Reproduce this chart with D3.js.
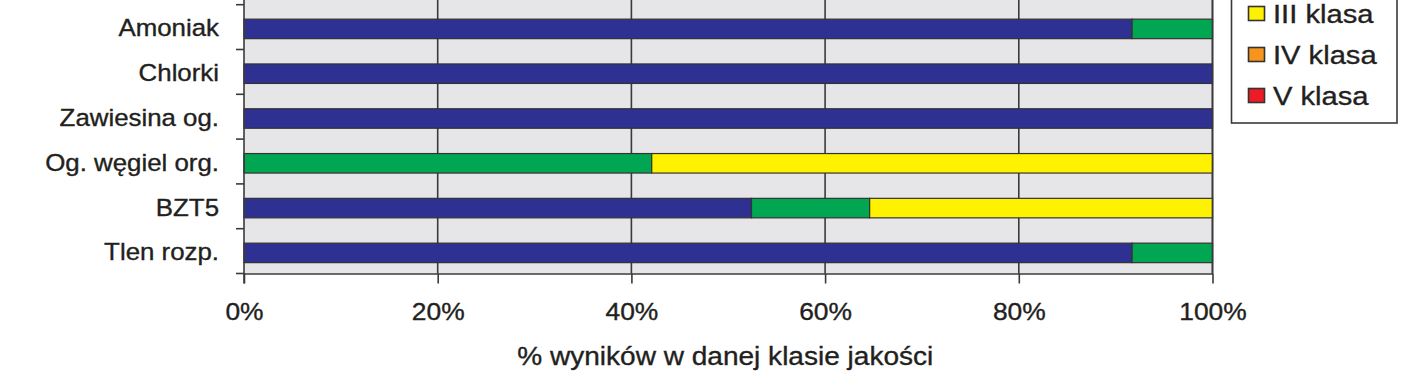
<!DOCTYPE html>
<html><head><meta charset="utf-8">
<script src="https://cdn.jsdelivr.net/npm/d3@7"></script>
<style>
html,body{margin:0;padding:0;background:#fff;overflow:hidden}
text{font-family:"Liberation Sans",Arial,sans-serif;fill:#231f20;stroke:#231f20;stroke-width:0.35px}
</style></head>
<body>
<svg id="c" width="1409" height="379"></svg>
<script>
const categories = ["Amoniak","Chlorki","Zawiesina og.","Og. węgiel org.","BZT5","Tlen rozp."];
const classNames = ["I klasa","II klasa","III klasa","IV klasa","V klasa"];
const classI   = [91.7,100,100,0,52.4,91.7];
const classII  = [8.3,0,0,42.1,12.2,8.3];
const classIII = [0,0,0,57.9,35.4,0];
const classIV  = [0,0,0,0,0,0];
const classV   = [0,0,0,0,0,0];
const xTicks = [0,20,40,60,80,100];
const colors = ["#2e3192","#00a651","#fff200","#f7941d","#ed1c24"];
const xTitle = "% wyników w danej klasie jakości";

const series = [classI,classII,classIII,classIV,classV];
const rows = categories.map((c,i)=>{const o={cat:c};classNames.forEach((k,j)=>o[k]=series[j][i]);return o;});
const stacked = d3.stack().keys(classNames)(rows);

const svg = d3.select("#c");
const L=244, R=1212.5, T=4.7, B=273.5;
const x = d3.scaleLinear().domain([0,100]).range([L,R]);
const y = d3.scaleBand().domain(categories).range([T,B]).padding(0);
const barH = 19.5, barOff = 1.8;
const SX = 1.1;

// plot background (extends above visible top)
svg.append("rect").attr("x",L).attr("y",-60).attr("width",R-L).attr("height",B+60).attr("fill","#e6e6e8");

// vertical gridlines
svg.append("g").selectAll("line").data(xTicks.slice(1)).join("line")
  .attr("x1",d=>x(d)).attr("x2",d=>x(d)).attr("y1",-60).attr("y2",B)
  .attr("stroke","#3a3a3a").attr("stroke-width",1.6);

// bars
svg.append("g").selectAll("g").data(stacked).join("g")
  .attr("fill",(d,i)=>colors[i])
  .selectAll("rect").data(d=>d.filter(s=>s[1]-s[0]>0)).join("rect")
  .attr("x",d=>x(d[0])).attr("width",d=>x(d[1])-x(d[0]))
  .attr("y",d=>y(d.data.cat)+y.bandwidth()/2-barH/2+barOff).attr("height",barH)
  .attr("stroke","#333").attr("stroke-width",1.2);

// x axis
const xa = svg.append("g").attr("transform",`translate(0,${B})`)
  .call(d3.axisBottom(x).tickValues(xTicks).tickFormat(d=>d+"%").tickSize(10).tickSizeOuter(0));
xa.select(".domain").attr("stroke","#3a3a3a").attr("stroke-width",1.6);
xa.selectAll(".tick line").attr("stroke","#3a3a3a").attr("stroke-width",1.6);
xa.selectAll(".tick text").attr("y",0).attr("dy",0)
  .attr("transform",`translate(0,46.5) scale(${SX},1)`)
  .attr("font-size",24).attr("font-family","Liberation Sans, Arial, sans-serif").attr("fill","#231f20");

// y axis
const ya = svg.append("g").attr("transform",`translate(${L},0)`);
ya.append("line").attr("x1",0).attr("x2",0).attr("y1",-60).attr("y2",B+10).attr("stroke","#3a3a3a").attr("stroke-width",1.6);
const yb = categories.map(c=>y(c)).concat([B]);
ya.selectAll("line.t").data(yb).join("line").attr("class","t")
  .attr("x1",-8).attr("x2",0).attr("y1",d=>d).attr("y2",d=>d)
  .attr("stroke","#3a3a3a").attr("stroke-width",1.6);

svg.append("g").selectAll("text").data(categories).join("text")
  .attr("text-anchor","end").attr("font-size",23.5)
  .attr("transform",d=>`translate(219,${y(d)+y.bandwidth()/2+barOff+7.5}) scale(${SX},1)`)
  .text(d=>d);

// right border
svg.append("line").attr("x1",R).attr("x2",R).attr("y1",-60).attr("y2",B).attr("stroke","#3a3a3a").attr("stroke-width",1.6);

// x title
svg.append("text").attr("text-anchor","middle").attr("font-size",25.5)
  .attr("transform",`translate(${(L+R)/2-3},365) scale(${SX},1)`).text(xTitle);

// legend (top part cropped, as in the reference)
const lg = svg.append("g");
const rowY = d3.scalePoint().domain(classNames).range([-68.5,95.5]);
lg.append("rect").attr("x",1231.5).attr("y",-95).attr("width",165.5).attr("height",95+123)
  .attr("fill","#fff").attr("stroke","#3a3a3a").attr("stroke-width",1.6);
const items = lg.selectAll("g").data(classNames).join("g");
items.append("rect").attr("x",1248.5).attr("y",d=>rowY(d)-7).attr("width",16).attr("height",14)
  .attr("fill",(d,i)=>colors[i]).attr("stroke","#333").attr("stroke-width",1.6);
items.append("text").attr("font-size",26.5)
  .attr("transform",d=>`translate(1273,${rowY(d)+9.5}) scale(${SX},1)`).text(d=>d);
</script>
</body></html>
